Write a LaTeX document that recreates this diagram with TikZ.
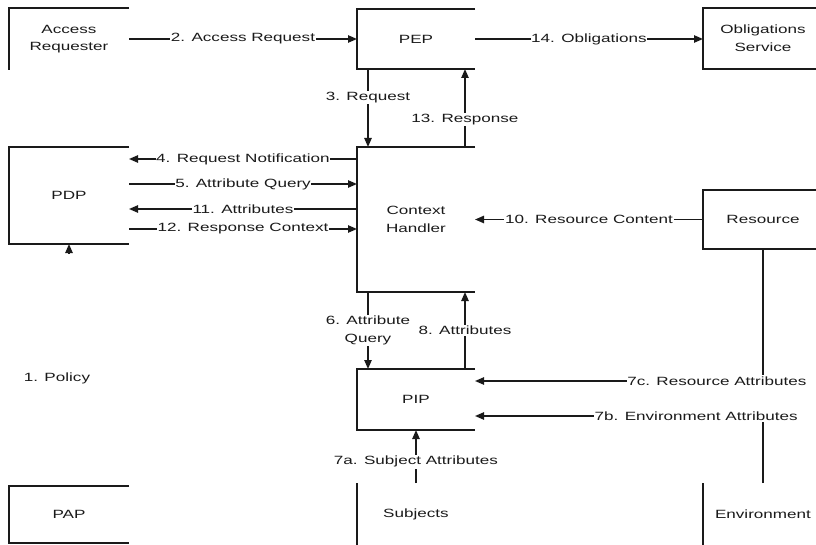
\documentclass[tikz,border=0pt]{standalone}
\usepackage{fontspec}
\usepackage{tikz}
\usetikzlibrary{arrows.meta,calc}
\newfontfamily\flowfont{Liberation Sans}[FakeStretch=1.43]
\definecolor{Ink}{HTML}{1A1A1A}
\tikzset{
  entity/.style={
    rectangle, inner sep=0pt, outer sep=0pt, align=center, text=Ink,
    font=\flowfont\fontsize{10.2pt}{15pt}\selectfont
  },
  edgeline/.style={draw=Ink, line width=1.4pt},
  flowarrow/.style={-{Triangle[length=2.7mm,width=2.2mm]}, Ink, line width=1.3pt},
  flowlabel/.style={fill=white, inner xsep=0.6pt, inner ysep=1pt, align=center, text=Ink,
    font=\flowfont\fontsize{10.2pt}{15pt}\selectfont},
}

\begin{document}
\begin{tikzpicture}[x=0.3mm, y=-0.3mm]
    \useasboundingbox (0,0) rectangle (816,545);
    \coordinate (frame) at (816,545);

    % boxes
    \node[entity, minimum width=36mm, minimum height=18.6mm] (ar) at (69,39) {Access\\Requester};
    \node[entity, minimum width=35.4mm, minimum height=18mm] (pep) at (416,39) {PEP};
    \node[entity, minimum width=36mm, minimum height=18.3mm] (obl) at (763,38.5) {Obligations\\Service};
    \node[entity, minimum width=35.4mm, minimum height=43.5mm] (ch) at (416,219.5) {Context\\Handler};
    \node[entity, minimum width=36mm, minimum height=29.1mm] (pdp) at (69,195.5) {PDP};
    \node[entity, minimum width=36mm, minimum height=17.7mm] (rsc) at (763,219.5) {Resource};
    \node[entity, minimum width=35.4mm, minimum height=18.3mm] (pip) at (416,399.5) {PIP};
    \node[entity, minimum width=36mm, minimum height=17.1mm] (pap) at (69,514.5) {PAP};
    \node[entity, minimum width=35.4mm, minimum height=18.6mm] (sub) at (416,514) {Subjects};
    \node[entity, minimum width=36mm, minimum height=18.6mm] (env) at (763,514) {Environment};
    \node[entity] (policy) at (57,378) {1. Policy};

    % visible box edges
    \draw[edgeline] (ar.north east) -- (ar.north west) -- (ar.south west);
    \draw[edgeline] (pep.north east) -- (pep.north west) -- (pep.south west) -- (pep.south east);
    \draw[edgeline] (obl.north west -| frame) -- (obl.north west) -- (obl.south west) -- (obl.south west -| frame);
    \draw[edgeline] (ch.north east) -- (ch.north west) -- (ch.south west) -- (ch.south east);
    \draw[edgeline] (pdp.north east) -- (pdp.north west) -- (pdp.south west) -- (pdp.south east);
    \draw[edgeline] (rsc.north west -| frame) -- (rsc.north west) -- (rsc.south west) -- (rsc.south west -| frame);
    \draw[edgeline] (pip.north east) -- (pip.north west) -- (pip.south west) -- (pip.south east);
    \draw[edgeline] (pap.north east) -- (pap.north west) -- (pap.south west) -- (pap.south east);
    \draw[edgeline] (sub.north west) -- (sub.south west);
    \draw[edgeline] (env.north west) -- (env.south west);

    % flows
    \draw[flowarrow] (pdp.south |- 0,254) -- (pdp.south);
    \draw[flowarrow] (ar) -- node[flowlabel] {2. Access Request} (pep);
    \draw[flowarrow] ([xshift=-14.4mm]pep.south) -- node[flowlabel, pos=0.37] {3. Request} ([xshift=-14.4mm]ch.north);
    \draw[flowarrow] (ch.west |- 0,159) -- node[flowlabel] {4. Request Notification} (pdp.east |- 0,159);
    \draw[flowarrow] (pdp.east |- 0,184) -- node[flowlabel] {5. Attribute Query} (ch.west |- 0,184);
    \draw[flowarrow] ([xshift=-14.4mm]ch.south) -- node[flowlabel] {6. Attribute\\Query} ([xshift=-14.4mm]pip.north);
    \draw[flowarrow] (sub.north) -- node[flowlabel, pos=0.4] {7a. Subject Attributes} (pip.south);
    \draw[flowarrow] (env.north) |- node[flowlabel, pos=0.616] {7b. Environment Attributes} (pip.east |- 0,416);
    \draw[flowarrow] (rsc.south) |- node[flowlabel, pos=0.58] {7c. Resource Attributes} (pip.east |- 0,381);
    \draw[flowarrow] ([xshift=14.7mm]pip.north) -- node[flowlabel] {8. Attributes} ([xshift=14.7mm]ch.south);
    \draw[flowarrow] (rsc) -- node[flowlabel] {10. Resource Content} (ch);
    \draw[flowarrow] (ch.west |- 0,209) -- node[flowlabel] {11. Attributes} (pdp.east |- 0,209);
    \draw[flowarrow] (pdp.east |- 0,229) -- node[flowlabel] {12. Response Context} (ch.west |- 0,229);
    \draw[flowarrow] ([xshift=14.7mm]ch.north) -- node[flowlabel, pos=0.35] {13. Response} ([xshift=14.7mm]pep.south);
    \draw[flowarrow] (pep.east) -- node[flowlabel] {14. Obligations} (obl.west |- pep.east);
  \end{tikzpicture}
\end{document}
